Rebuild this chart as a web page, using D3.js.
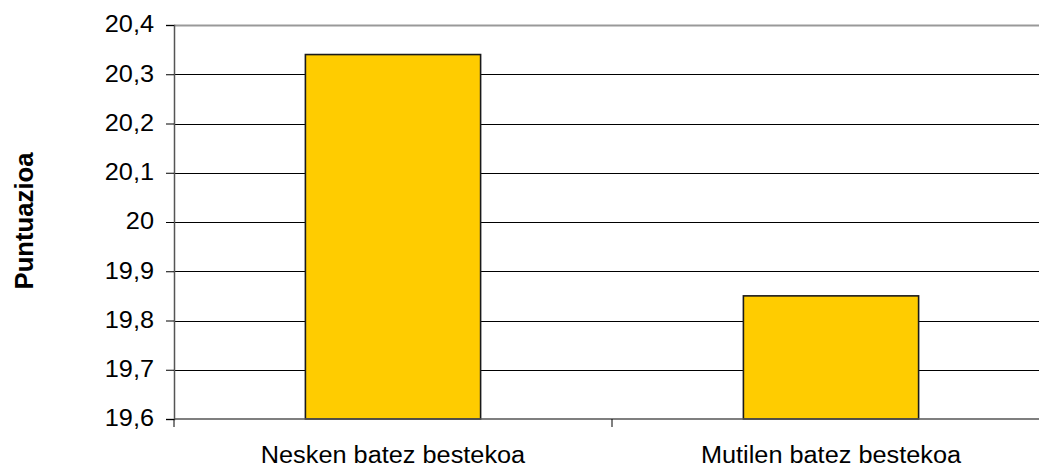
<!DOCTYPE html>
<html>
<head>
<meta charset="utf-8">
<script src="https://cdn.jsdelivr.net/npm/d3@7/dist/d3.min.js"></script>
<style>
  body { margin: 0; background: #fff; }
  text { font-family: "Liberation Sans", Arial, sans-serif; fill: #000; }
</style>
</head>
<body>
<div class="chart"></div>
<script>
var svgWidth = 1039;
var svgHeight = 469;

// data
var categories = ["Nesken batez bestekoa", "Mutilen batez bestekoa"];
var values = [20.34, 19.85];
var yTicks = [19.6, 19.7, 19.8, 19.9, 20, 20.1, 20.2, 20.3, 20.4];
var yTitle = "Puntuazioa";

var plot = { left: 174, top: 25, bottom: 419, right: 1050 };
var stretch = 1.1; // text in the picture is a bit wider than the font

var svg = d3.select(".chart")
  .append("svg")
  .attr("width", svgWidth)
  .attr("height", svgHeight);

var xScale = d3.scaleBand()
  .domain(categories)
  .range([plot.left, plot.right])
  .paddingInner(0.6)
  .paddingOuter(0.3);

var yScale = d3.scaleLinear()
  .domain([19.6, 20.4])
  .range([plot.bottom, plot.top]);

var fmt = function (d) { return String(+d.toFixed(1)).replace(".", ","); };

// gridlines
svg.append("g")
  .selectAll("line")
  .data(yTicks.slice(1, -1))
  .enter()
  .append("line")
  .attr("x1", plot.left)
  .attr("x2", plot.right)
  .attr("y1", d => Math.round(yScale(d)) + 0.5)
  .attr("y2", d => Math.round(yScale(d)) + 0.5)
  .attr("stroke", "#000")
  .attr("stroke-width", 1.2);

// plot border top
svg.append("line")
  .attr("x1", plot.left).attr("x2", plot.right)
  .attr("y1", plot.top + 0.5).attr("y2", plot.top + 0.5)
  .attr("stroke", "#999").attr("stroke-width", 2);

// bars
svg.append("g")
  .selectAll("rect")
  .data(values)
  .enter()
  .append("rect")
  .attr("x", (d, i) => xScale(categories[i]))
  .attr("y", d => yScale(d))
  .attr("width", xScale.bandwidth())
  .attr("height", d => plot.bottom - yScale(d))
  .attr("fill", "#FFCC00")
  .attr("stroke", "#1a1a1a")
  .attr("stroke-width", 1.6);

// y axis
var leftAxis = d3.axisLeft(yScale)
  .tickValues(yTicks)
  .tickSize(8)
  .tickPadding(12)
  .tickFormat(fmt);

var yAxisG = svg.append("g")
  .attr("transform", `translate(${plot.left}, 0)`)
  .call(leftAxis);
yAxisG.select(".domain").attr("stroke", "#555").attr("stroke-width", 1.5);
yAxisG.selectAll(".tick line").attr("stroke", "#000");
yAxisG.selectAll("text")
  .style("font-size", "23px")
  .attr("font-family", "Liberation Sans, Arial, sans-serif")
  .attr("dy", "0.3em");

// x axis
var step = xScale.step();
var xBounds = [plot.left, plot.left + step, plot.right];

svg.append("line")
  .attr("x1", plot.left).attr("x2", plot.right)
  .attr("y1", plot.bottom).attr("y2", plot.bottom)
  .attr("stroke", "#555").attr("stroke-width", 1.5);

svg.append("g")
  .selectAll("line")
  .data(xBounds)
  .enter()
  .append("line")
  .attr("x1", d => d).attr("x2", d => d)
  .attr("y1", plot.bottom).attr("y2", plot.bottom + 8)
  .attr("stroke", "#000");

svg.append("g")
  .selectAll("text")
  .data(categories)
  .enter()
  .append("text")
  .attr("x", d => xScale(d) + xScale.bandwidth() / 2)
  .attr("y", 463)
  .attr("text-anchor", "middle")
  .style("font-size", "23px")
  .text(d => d);

// widen text to match the picture
svg.selectAll("text").each(function () {
  var len = this.getComputedTextLength();
  d3.select(this)
    .attr("textLength", len * stretch)
    .attr("lengthAdjust", "spacingAndGlyphs");
});

// y title
svg.append("text")
  .attr("transform", "translate(33, 221) rotate(-90)")
  .attr("text-anchor", "middle")
  .style("font-size", "25px")
  .style("font-weight", "bold")
  .attr("textLength", 137)
  .attr("lengthAdjust", "spacingAndGlyphs")
  .text(yTitle);
</script>
</body>
</html>
